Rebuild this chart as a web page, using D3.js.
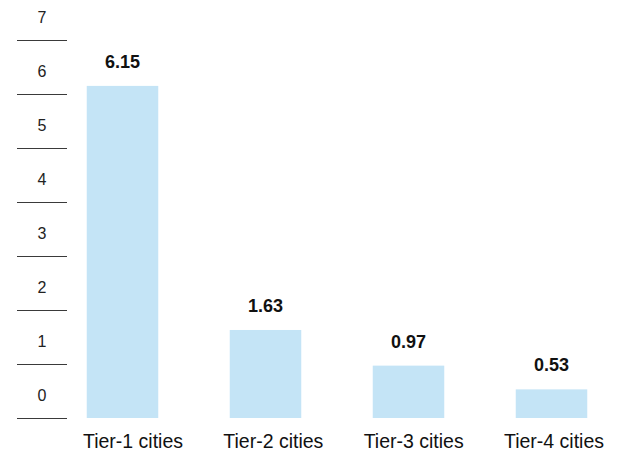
<!DOCTYPE html>
<html>
<head>
<meta charset="utf-8">
<script src="https://cdn.jsdelivr.net/npm/d3@7"></script>
<style>
  html, body { margin: 0; padding: 0; background: #fff; }
  svg { display: block; font-family: "Liberation Sans", Arial, sans-serif; }
</style>
</head>
<body>
<svg id="chart" width="627" height="452"></svg>
<script>
// Average values by city tier
const categories = ["Tier-1 cities", "Tier-2 cities", "Tier-3 cities", "Tier-4 cities"];
const values = [6.15, 1.63, 0.97, 0.53];
const yTicks = [0, 1, 2, 3, 4, 5, 6, 7];

const svg = d3.select("#chart");
const baseY = 418;

const y = d3.scaleLinear().domain([0, 7]).range([baseY, 40]);
const x = d3.scaleBand()
  .domain(categories)
  .range([51, 623])
  .paddingInner(0.5)
  .paddingOuter(0.25);
// category labels sit slightly right of the bar centres
const xLabel = d3.scalePoint().domain(categories).range([133, 554]);

// y rules and labels
const axis = svg.append("g");
axis.selectAll("line")
  .data(yTicks)
  .join("line")
  .attr("x1", 17).attr("x2", 67)
  .attr("y1", d => Math.round(y(d)) + 0.5)
  .attr("y2", d => Math.round(y(d)) + 0.5)
  .attr("stroke", "#3a3a3a")
  .attr("stroke-width", 1);
axis.selectAll("text")
  .data(yTicks)
  .join("text")
  .attr("x", 42)
  .attr("y", d => y(d + 0.5) + 4)
  .attr("text-anchor", "middle")
  .attr("dominant-baseline", "central")
  .attr("font-size", 16)
  .attr("fill", "#222")
  .text(d => d);

// bars
svg.append("g").selectAll("rect")
  .data(values)
  .join("rect")
  .attr("x", (d, i) => x(categories[i]))
  .attr("width", x.bandwidth())
  .attr("y", d => y(d))
  .attr("height", d => baseY - y(d))
  .attr("fill", "#c4e4f6");

// value labels
svg.append("g").selectAll("text")
  .data(values)
  .join("text")
  .attr("x", (d, i) => x(categories[i]) + x.bandwidth() / 2)
  .attr("y", d => y(d) - 18)
  .attr("text-anchor", "middle")
  .attr("font-size", 18)
  .attr("font-weight", "bold")
  .attr("fill", "#111")
  .text(d => d.toFixed(2));

// category labels
svg.append("g").selectAll("text")
  .data(categories)
  .join("text")
  .attr("x", d => xLabel(d))
  .attr("y", 448)
  .attr("text-anchor", "middle")
  .attr("font-size", 19.5)
  .attr("fill", "#111")
  .text(d => d);
</script>
</body>
</html>
